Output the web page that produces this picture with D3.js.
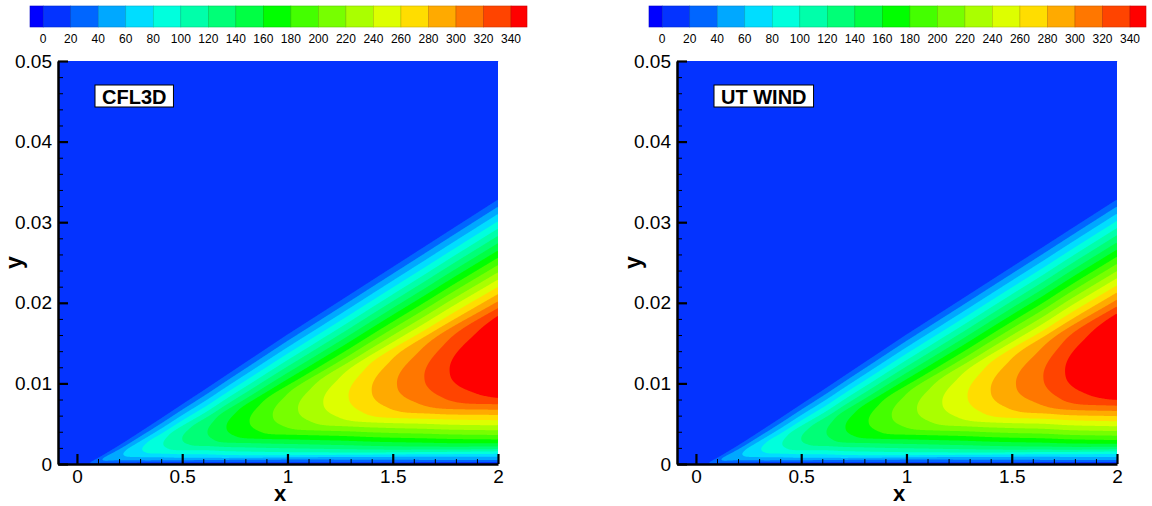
<!DOCTYPE html>
<html>
<head>
<meta charset="utf-8">
<script src="https://cdn.jsdelivr.net/npm/d3@7"></script>
<style>
body { margin: 0; background: #fff; }
svg { display: block; font-family: "Liberation Sans", Arial, sans-serif; }
</style>
</head>
<body>
<svg id="chart" width="1152" height="506"></svg>
<script>
// contour levels = colour bar tick labels
var levels = [0, 20, 40, 60, 80, 100, 120, 140, 160, 180, 200, 220, 240, 260, 280, 300, 320, 340];
// one colour per band: below 0, 0-20, ..., 320-340, above 340
var bandColors = ["#0000ff", "#0433ff", "#0066ff", "#00a8ff", "#00ddff", "#00ffdd", "#00ffaa",
                  "#00ff77", "#00ff44", "#00ff00", "#44ff00", "#77ff00", "#aaff00", "#ddff00",
                  "#ffdd00", "#ffaa00", "#ff7700", "#ff4400", "#ff0000"];
var colorbarRange = [-9.6, 351.6];

var xTicks = [0, 0.5, 1, 1.5, 2];
var yTicks = [0, 0.01, 0.02, 0.03, 0.04, 0.05];
var panelNames = ["CFL3D", "UT WIND"];

// peak value of the layer along x (where each band's nose sits)
var peakX = [0.04, 0.06, 0.12, 0.22, 0.31, 0.41, 0.50, 0.62, 0.71, 0.82, 0.93, 1.05, 1.17, 1.29, 1.40, 1.52, 1.65, 1.77, 2.0];
var peakCFL3D = [0, 20, 40, 60, 80, 100, 120, 140, 160, 180, 200, 220, 240, 260, 280, 300, 320, 340, 372];
var peakWind  = [0, 20, 40, 60, 80, 100, 120, 140, 160, 180, 200, 220, 240, 260, 280, 300, 320, 343, 378];

// outer edge of the layer
var edgeX = [0.04, 1.0, 2.0];
var edgeY = [0, 0.0170, 0.0340];

// profile across the layer (height / edge height -> value / peak)
var etaVals   = [0, 0.015, 0.032, 0.044, 0.059, 0.079, 0.106, 0.141, 0.179, 0.218, 0.241, 0.29, 0.34, 0.39, 0.44, 0.49, 0.541, 0.594, 0.726, 0.859, 0.965, 0.99, 1.0, 10];
var shapeVals = [0, 0.108, 0.188, 0.255, 0.35, 0.444, 0.538, 0.645, 0.753, 0.86, 0.914, 0.965, 0.993, 1.0, 0.99, 0.96, 0.914, 0.806, 0.538, 0.269, 0.054, 0, 0, 0];

// monotone cubic through read points, so contour noses come out round
function monotone(xs, ys) {
    var n = xs.length, d = [], m = [], i;
    for (i = 0; i < n - 1; i++) d[i] = (ys[i + 1] - ys[i]) / (xs[i + 1] - xs[i]);
    m[0] = d[0]; m[n - 1] = d[n - 2];
    for (i = 1; i < n - 1; i++) m[i] = (d[i - 1] * d[i] <= 0) ? 0 : (d[i - 1] + d[i]) / 2;
    for (i = 0; i < n - 1; i++) {
        if (d[i] === 0) { m[i] = 0; m[i + 1] = 0; continue; }
        var a = m[i] / d[i], b = m[i + 1] / d[i], s = a * a + b * b;
        if (s > 9) { var t = 3 / Math.sqrt(s); m[i] = t * a * d[i]; m[i + 1] = t * b * d[i]; }
    }
    return function(x) {
        if (x <= xs[0]) return ys[0];
        if (x >= xs[n - 1]) return ys[n - 1];
        var k = d3.bisectRight(xs, x) - 1;
        var h = xs[k + 1] - xs[k], t = (x - xs[k]) / h, t2 = t * t, t3 = t2 * t;
        return (2 * t3 - 3 * t2 + 1) * ys[k] + (t3 - 2 * t2 + t) * h * m[k] +
               (-2 * t3 + 3 * t2) * ys[k + 1] + (t3 - t2) * h * m[k + 1];
    };
}

var svg = d3.select("#chart");

var plotLeft = 58, plotRight = 498, plotTop = 61, plotBottom = 464;
var panelShift = [0, 619];
var peaks = [peakCFL3D, peakWind];

panelNames.forEach(function(name, p) {
    var g = svg.append("g").attr("transform", "translate(" + panelShift[p] + ",0)");

    var xScale = d3.scaleLinear().domain([-0.09, 2]).range([plotLeft, plotRight]);
    var yScale = d3.scaleLinear().domain([0, 0.05]).range([plotBottom, plotTop]);

    var peakAt = monotone(peakX, peaks[p]);
    var edgeAt = d3.scaleLinear().domain(edgeX).range(edgeY).clamp(true);
    var shapeAt = monotone(etaVals, shapeVals);

    function field(x, y) {
        if (x <= edgeX[0]) return 0;
        return peakAt(x) * shapeAt(y / edgeAt(x));
    }

    // grid, one cell per pixel
    var nx = plotRight - plotLeft, ny = plotBottom - plotTop;
    var cw = (plotRight - plotLeft) / nx, ch = (plotBottom - plotTop) / ny;
    var values = new Float64Array(nx * ny);
    for (var j = 0; j < ny; j++) {
        var y = yScale.invert(plotTop + (j + 0.5) * ch);
        for (var i = 0; i < nx; i++) {
            var x = xScale.invert(plotLeft + (i + 0.5) * cw);
            values[j * nx + i] = field(x, y);
        }
    }

    var bands = d3.contours().size([nx, ny]).thresholds(levels)(values);
    var toPixels = d3.geoTransform({
        point: function(gx, gy) { this.stream.point(plotLeft + gx * cw, plotTop + gy * ch); }
    });
    var path = d3.geoPath(toPixels);

    g.append("rect")
        .attr("x", plotLeft).attr("y", plotTop)
        .attr("width", plotRight - plotLeft).attr("height", plotBottom - plotTop)
        .attr("fill", bandColors[1]);

    g.selectAll("path.band")
        .data(bands)
        .join("path")
        .attr("class", "band")
        .attr("d", path)
        .attr("fill", function(d, k) { return bandColors[k + 1]; });

    // colour bar
    var cb = d3.scaleLinear().domain(colorbarRange).range([30, 527]);
    var edges = [colorbarRange[0]].concat(levels, [colorbarRange[1]]);
    g.selectAll("rect.cb")
        .data(bandColors)
        .join("rect")
        .attr("class", "cb")
        .attr("x", function(d, k) { return cb(edges[k]); })
        .attr("y", 6)
        .attr("width", function(d, k) { return cb(edges[k + 1]) - cb(edges[k]); })
        .attr("height", 21)
        .attr("fill", function(d) { return d; })
        .attr("stroke", function(d) { return d3.color(d).darker(0.7); })
        .attr("stroke-width", 0.6);
    g.selectAll("text.cbl")
        .data(levels)
        .join("text")
        .attr("class", "cbl")
        .attr("x", function(d) { return cb(d); })
        .attr("y", 43)
        .attr("text-anchor", "middle")
        .attr("font-size", 12)
        .text(function(d) { return d; });

    // axes: minor ticks first, then majors
    var xMinor = d3.range(0.1, 2, 0.1).filter(function(v) { return Math.abs(v * 2 - Math.round(v * 2)) > 1e-6; });
    var yMinor = d3.range(0.002, 0.05, 0.002).filter(function(v) { return Math.abs(v * 100 - Math.round(v * 100)) > 1e-6; });

    var xAxisMinor = g.append("g").attr("transform", "translate(0," + plotBottom + ")")
        .call(d3.axisBottom(xScale).tickValues(xMinor).tickSize(-5).tickSizeOuter(0).tickFormat(""));
    var yAxisMinor = g.append("g").attr("transform", "translate(" + plotLeft + ",0)")
        .call(d3.axisLeft(yScale).tickValues(yMinor).tickSize(-5).tickSizeOuter(0).tickFormat(""));
    [xAxisMinor, yAxisMinor].forEach(function(a) {
        a.select(".domain").remove();
        a.selectAll(".tick line").attr("stroke", "#000").attr("stroke-width", 1);
    });

    var xAxis = g.append("g").attr("transform", "translate(0," + plotBottom + ")")
        .call(d3.axisBottom(xScale).tickValues(xTicks).tickSize(-10).tickSizeOuter(0).tickPadding(6)
            .tickFormat(function(d) { return String(d); }));
    var yAxis = g.append("g").attr("transform", "translate(" + plotLeft + ",0)")
        .call(d3.axisLeft(yScale).tickValues(yTicks).tickSize(-10).tickSizeOuter(0).tickPadding(6)
            .tickFormat(function(d) { return String(d); }));
    [xAxis, yAxis].forEach(function(a) {
        a.attr("font-family", null).attr("font-size", null);
        a.select(".domain").attr("stroke", "#000").attr("stroke-width", 2.5);
        a.selectAll(".tick line").attr("stroke", "#000").attr("stroke-width", 2.2);
        a.selectAll(".tick text").attr("font-size", 19).attr("fill", "#000");
    });

    g.append("text")
        .attr("x", (plotLeft + plotRight) / 2 + 2).attr("y", 501)
        .attr("text-anchor", "middle")
        .attr("font-size", 22).attr("font-weight", "bold")
        .text("x");
    g.append("text")
        .attr("transform", "translate(22," + (plotTop + plotBottom) / 2 + ") rotate(-90)")
        .attr("text-anchor", "middle")
        .attr("font-size", 23).attr("font-weight", "bold")
        .text("y");

    // label box
    var label = g.append("g");
    var labelText = label.append("text")
        .attr("x", 102).attr("y", 103.5)
        .attr("font-size", 20).attr("font-weight", "bold")
        .text(name);
    var bb = labelText.node().getBBox();
    label.insert("rect", "text")
        .attr("x", 95).attr("y", 85)
        .attr("width", bb.width + 14).attr("height", 22)
        .attr("fill", "#fff").attr("stroke", "#000").attr("stroke-width", 1);
});
</script>
</body>
</html>
